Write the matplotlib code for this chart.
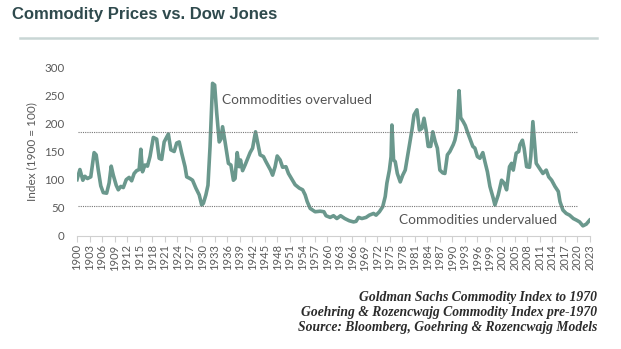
import matplotlib
matplotlib.use("Agg")
import matplotlib.pyplot as plt

# index values (1900 = 100)
years = [1900.0, 1900.7, 1901.4, 1901.9, 1902.5, 1903.3, 1904.1, 1904.6, 1905.1, 1905.7,
         1906.3, 1907.1, 1907.7, 1908.2, 1908.7, 1909.4, 1909.9, 1910.5, 1911.1, 1911.8,
         1912.5, 1913.1, 1913.7, 1914.3, 1914.9, 1915.3, 1915.7, 1916.3, 1916.9, 1917.5,
         1918.3, 1919.1, 1919.7, 1920.3, 1920.9, 1921.9, 1922.5, 1923.3, 1923.9, 1924.5,
         1925.1, 1925.9, 1926.3, 1927.1, 1927.7, 1928.5, 1929.3, 1929.9, 1930.3, 1930.9,
         1931.4, 1931.9, 1932.5, 1933.0, 1933.5, 1934.1, 1934.5, 1934.9, 1935.5, 1936.3,
         1936.9, 1937.5, 1937.9, 1938.4, 1938.9, 1939.2, 1939.7, 1940.3, 1940.8, 1941.5,
         1942.1, 1942.8, 1943.2, 1943.9, 1944.7, 1945.3, 1945.9, 1946.4, 1946.9, 1947.5,
         1948.0, 1948.7, 1949.3, 1950.1, 1950.7, 1951.5, 1952.3, 1953.3, 1954.1, 1954.7,
         1955.2, 1955.9, 1957.1, 1958.3, 1959.2, 1959.7, 1960.7, 1961.5, 1962.3, 1963.2,
         1964.2, 1965.3, 1966.3, 1966.9, 1967.5, 1968.3, 1969.3, 1970.1, 1971.1, 1971.7,
         1972.5, 1973.3, 1973.9, 1974.3, 1974.9, 1975.3, 1975.5, 1975.9, 1976.3, 1976.8,
         1977.5, 1978.1, 1978.7, 1979.1, 1979.7, 1980.3, 1980.8, 1981.5, 1982.1, 1982.7,
         1983.2, 1983.7, 1984.2, 1984.8, 1985.3, 1985.9, 1986.4, 1987.0, 1987.7, 1988.2,
         1988.8, 1989.4, 1990.2, 1990.6, 1991.1, 1991.6, 1992.0, 1992.6, 1993.1, 1993.6,
         1994.2, 1994.9, 1995.4, 1996.0, 1996.6, 1997.3, 1997.8, 1998.4, 1999.0, 1999.8,
         2000.2, 2001.0, 2001.8, 2002.4, 2003.0, 2003.7, 2004.2, 2004.6, 2005.3, 2005.9,
         2006.2, 2006.8, 2007.2, 2007.8, 2008.5, 2008.8, 2009.3, 2009.6, 2010.1, 2010.9,
         2011.7, 2012.5, 2013.1, 2013.8, 2014.6, 2015.4, 2015.8, 2016.5, 2017.3, 2018.1,
         2019.0, 2019.8, 2020.5, 2021.3, 2022.1, 2022.9]
index = [100, 118, 99, 106, 102, 105, 148, 144, 117, 89,
         77, 76, 94, 124, 108, 90, 82, 88, 86, 100,
         104, 98, 111, 116, 118, 154, 114, 126, 124, 141,
         175, 172, 138, 136, 167, 181, 153, 150, 165, 167,
         147, 123, 105, 102, 99, 85, 73, 55, 58, 73,
         90, 159, 271, 268, 218, 167, 172, 194, 167, 129,
         126, 99, 102, 148, 123, 135, 116, 126, 135, 148,
         156, 185, 170, 144, 141, 132, 124, 117, 108, 123,
         142, 135, 122, 123, 111, 101, 91, 85, 82, 73,
         61, 49, 43, 44, 43, 36, 33, 36, 31, 36,
         31, 27, 25, 26, 33, 31, 33, 37, 40, 37,
         43, 52, 70, 94, 117, 141, 197, 135, 132, 111,
         96, 108, 117, 135, 162, 188, 215, 224, 188, 191,
         209, 188, 159, 159, 185, 167, 156, 117, 112, 111,
         144, 150, 162, 170, 188, 258, 210, 203, 196, 185,
         173, 159, 156, 141, 138, 148, 132, 114, 88, 67,
         55, 73, 99, 94, 82, 123, 129, 117, 147, 150,
         162, 170, 156, 123, 122, 141, 203, 176, 129, 120,
         111, 117, 105, 99, 88, 79, 61, 46, 40, 37,
         31, 28, 25, 18, 21, 28]

tick_years = list(range(1900, 2024, 3))
overvalued = 184
undervalued = 53

fig = plt.figure(figsize=(6.21, 3.49), dpi=100)
ax = fig.add_axes([0.124, 0.3238, 0.8261, 0.4842])

ax.plot(years, index, color="#6a988d", lw=2.6, solid_joinstyle="round")
ax.hlines([overvalued, undervalued], 1900.3, 2020.1, colors="#777777",
          linestyles=(0, (1, 1)), lw=0.8)

ax.text(1934.8, 241, "Commodities overvalued", family="Lato", fontsize=9.8,
        color="#555555", va="center", ha="left")
ax.text(1977.2, 28, "Commodities undervalued", family="Lato", fontsize=9.8,
        color="#555555", va="center", ha="left")

ax.set_xlim(1900, 2023)
ax.set_ylim(0, 300)
ax.set_yticks(range(0, 301, 50))
ax.set_xticks(tick_years)
ax.set_xticklabels([str(y) for y in tick_years], rotation=90, family="Lato",
                   fontsize=8, color="#595959")
for lab in ax.get_yticklabels():
    lab.set_family("Lato")
    lab.set_fontsize(8.3)
    lab.set_color("#595959")
ax.tick_params(axis="y", length=0, pad=9)
ax.tick_params(axis="x", length=4, width=0.8, color="#d0d0d0", pad=2)
for s in ["top", "right", "left"]:
    ax.spines[s].set_visible(False)
ax.spines["bottom"].set_color("#d0d0d0")
ax.spines["bottom"].set_linewidth(0.8)

fig.text(32 / 621, 0.566, "Index (1900 = 100)", rotation=90, family="Lato",
         fontsize=8.5, color="#595959", ha="center", va="center")

fig.text(12 / 621, 1 - 15 / 349, "Commodity Prices vs. Dow Jones",
         family="Liberation Sans", fontweight="bold", fontsize=12,
         color="#2f4a4d", ha="left", va="center")
fig.add_artist(plt.Line2D([20 / 621, 597 / 621], [1 - 38 / 349, 1 - 38 / 349],
                          color="#c9d6d5", lw=1.8))

src = ["Goldman Sachs Commodity Index to 1970",
       "Goehring & Rozencwajg Commodity Index pre-1970",
       "Source: Bloomberg, Goehring & Rozencwajg Models"]
for i, line in enumerate(src):
    fig.text(597 / 621, 1 - (298 + 14.5 * i) / 349, line, family="Liberation Serif",
             style="italic", fontweight="bold", fontsize=9.8, color="#2b2b2b",
             ha="right", va="center")

fig.savefig("out.png", dpi=100)
